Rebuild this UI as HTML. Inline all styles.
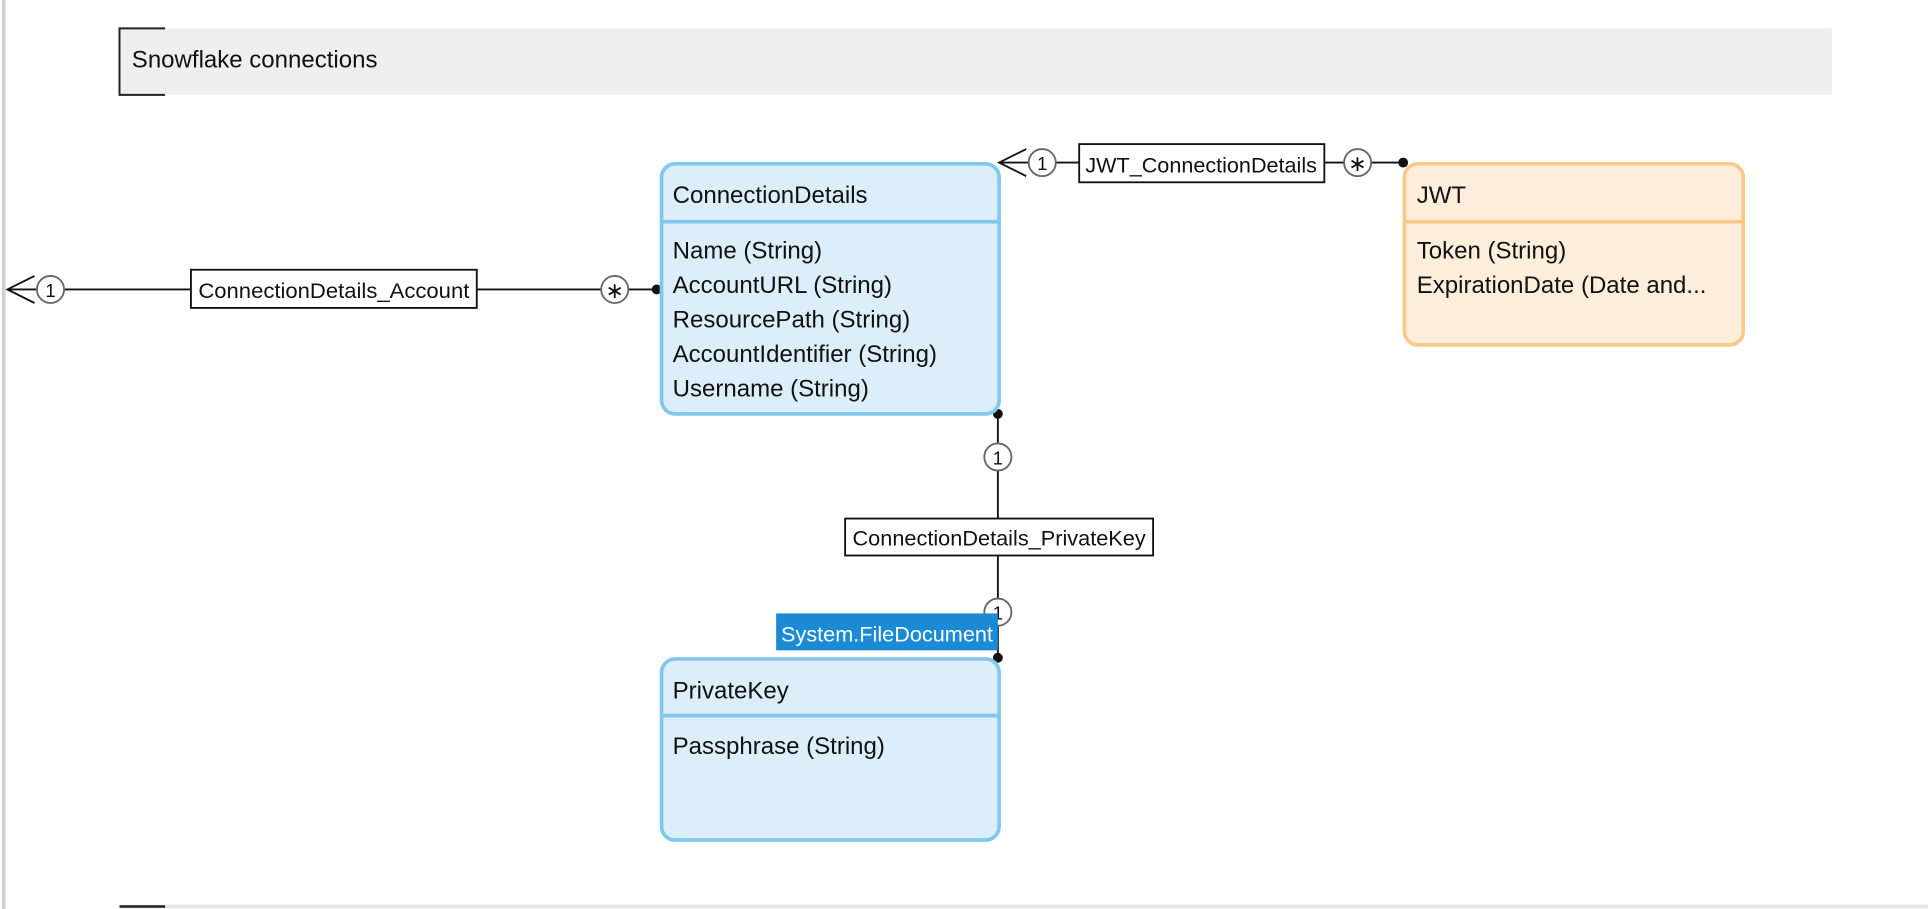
<!DOCTYPE html>
<html><head><meta charset="utf-8"><style>
html,body{margin:0;padding:0;background:#fff;width:1928px;height:909px;overflow:hidden}
svg{display:block}
text{font-family:"Liberation Sans",sans-serif;fill:#111}
</style></head><body>
<svg width="1928" height="909" viewBox="0 0 1565 738" preserveAspectRatio="none">
<rect x="0" y="0" width="1565" height="738" fill="#fff"/>
<line x1="3" y1="0" x2="3" y2="738" stroke="#d0d0d0" stroke-width="3"/>
<!-- header -->
<rect x="97" y="23" width="1390" height="54" fill="#efefef"/>
<path d="M134 23 H97 V77 H134" fill="none" stroke="#222" stroke-width="1.6"/>
<text x="107" y="55" font-size="19.5">Snowflake connections</text>
<!-- bottom -->
<line x1="97" y1="736" x2="1565" y2="736" stroke="#e4e4e4" stroke-width="3"/>
<line x1="97" y1="736" x2="134" y2="736" stroke="#222" stroke-width="2"/>

<!-- ConnectionDetails_Account connector -->
<line x1="6" y1="235" x2="533" y2="235" stroke="#111" stroke-width="1.5"/>
<path d="M28 224 L6 235 L28 246" fill="none" stroke="#111" stroke-width="1.5"/>
<circle cx="41" cy="235" r="11" fill="#fff" stroke="#666" stroke-width="1.5"/>
<text x="41" y="241" font-size="15" text-anchor="middle" fill="#555">1</text>
<rect x="155" y="219" width="232" height="31" fill="#fff" stroke="#111" stroke-width="1.5"/>
<text x="271" y="242" font-size="17" text-anchor="middle" textLength="220" lengthAdjust="spacingAndGlyphs">ConnectionDetails_Account</text>
<circle cx="499" cy="235" r="11" fill="#fff" stroke="#666" stroke-width="1.5"/>
<text x="499" y="242" font-size="18" text-anchor="middle" fill="#555">∗</text>
<circle cx="533" cy="235" r="4" fill="#111"/>

<!-- JWT_ConnectionDetails -->
<line x1="811" y1="132" x2="1140" y2="132" stroke="#111" stroke-width="1.5"/>
<path d="M833 121 L811 132 L833 143" fill="none" stroke="#111" stroke-width="1.5"/>
<circle cx="846" cy="132" r="11" fill="#fff" stroke="#666" stroke-width="1.5"/>
<text x="846" y="138" font-size="15" text-anchor="middle" fill="#555">1</text>
<rect x="876" y="117" width="199" height="31" fill="#fff" stroke="#111" stroke-width="1.5"/>
<text x="975" y="140" font-size="17" text-anchor="middle" textLength="188" lengthAdjust="spacingAndGlyphs">JWT_ConnectionDetails</text>
<circle cx="1102" cy="132" r="11" fill="#fff" stroke="#666" stroke-width="1.5"/>
<text x="1102" y="139" font-size="18" text-anchor="middle" fill="#555">∗</text>
<circle cx="1139" cy="132" r="4" fill="#111"/>

<!-- vertical connector -->
<line x1="810" y1="336" x2="810" y2="534" stroke="#111" stroke-width="1.5"/>
<circle cx="810" cy="336" r="4" fill="#111"/>
<circle cx="810" cy="371" r="11" fill="#fff" stroke="#666" stroke-width="1.5"/>
<text x="810" y="377" font-size="15" text-anchor="middle" fill="#555">1</text>
<rect x="686" y="421" width="250" height="30" fill="#fff" stroke="#111" stroke-width="1.5"/>
<text x="811" y="443" font-size="17" text-anchor="middle" textLength="238" lengthAdjust="spacingAndGlyphs">ConnectionDetails_PrivateKey</text>
<circle cx="810" cy="497" r="11" fill="#fff" stroke="#666" stroke-width="1.5"/>
<text x="810" y="503" font-size="15" text-anchor="middle" fill="#555">1</text>
<rect x="630" y="498" width="180" height="30" fill="#1b8bd6"/>
<text x="720" y="521" font-size="17" text-anchor="middle" style="fill:#fff" textLength="172" lengthAdjust="spacingAndGlyphs">System.FileDocument</text>
<circle cx="810" cy="534" r="4" fill="#111"/>

<!-- ConnectionDetails entity -->
<rect x="537" y="133" width="274" height="203" rx="11" fill="#dbeef9" stroke="#80c8ec" stroke-width="3"/>
<line x1="537" y1="180" x2="811" y2="180" stroke="#80c8ec" stroke-width="3"/>
<text x="546" y="165" font-size="19.5">ConnectionDetails</text>
<text x="546" y="210" font-size="19.5">Name (String)</text>
<text x="546" y="238" font-size="19.5">AccountURL (String)</text>
<text x="546" y="266" font-size="19.5">ResourcePath (String)</text>
<text x="546" y="294" font-size="19.5">AccountIdentifier (String)</text>
<text x="546" y="322" font-size="19.5">Username (String)</text>

<!-- JWT entity -->
<rect x="1140" y="133" width="275" height="147" rx="11" fill="#fdeedc" stroke="#f9c98a" stroke-width="3"/>
<line x1="1140" y1="180" x2="1415" y2="180" stroke="#f9c98a" stroke-width="3"/>
<text x="1150" y="165" font-size="19.5">JWT</text>
<text x="1150" y="210" font-size="19.5">Token (String)</text>
<text x="1150" y="238" font-size="19.5">ExpirationDate (Date and...</text>

<!-- PrivateKey entity -->
<rect x="537" y="535" width="274" height="147" rx="11" fill="#dbeef9" stroke="#80c8ec" stroke-width="3"/>
<line x1="537" y1="581" x2="811" y2="581" stroke="#80c8ec" stroke-width="3"/>
<text x="546" y="567" font-size="19.5">PrivateKey</text>
<text x="546" y="612" font-size="19.5">Passphrase (String)</text>
</svg>
</body></html>
